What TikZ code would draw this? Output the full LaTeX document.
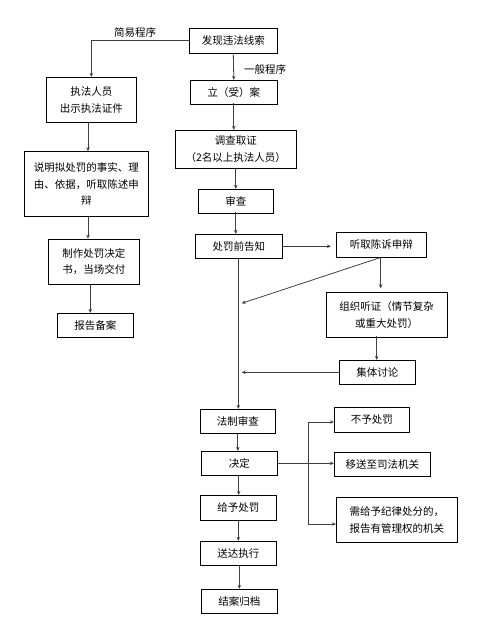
\documentclass[tikz,border=0pt]{standalone}
\usepackage{fontspec}
\setmainfont{Noto Sans CJK SC}
\usetikzlibrary{arrows.meta}
\begin{document}
\begin{tikzpicture}[x=1pt,y=-1pt,
  box/.style={draw, line width=0.8pt, inner sep=0pt, align=center,
    font=\fontsize{10.5}{16.5}\selectfont},
  lbl/.style={font=\fontsize{10.5}{13}\selectfont, inner sep=0pt},
  arr/.style={draw=black!75, line width=0.8pt, -{Stealth[length=4pt,width=3.5pt]}},
  ln/.style={draw=black!75, line width=0.8pt}]
\useasboundingbox (0,0) rectangle (483,629);
\fill[white] (0,0) rectangle (483,629);

% boxes
\node[box, minimum width=88pt, minimum height=25pt] (find) at (233.3,40.8) {发现违法线索};
\node[box, minimum width=90pt, minimum height=45pt] (zf) at (91.3,99.8) {执法人员\\出示执法证件};
\node[box, minimum width=87pt, minimum height=24pt] (la) at (233.8,92.3) {立（受）案};
\node[box, minimum width=121pt, minimum height=38pt] (dc) at (235.8,149.3) {调查取证\\（2名以上执法人员）};
\node[box, minimum width=124pt, minimum height=64.6pt] (sm) at (86.3,184) {说明拟处罚的事实、理\\由、依据，听取陈述申\\辩};
\node[box, minimum width=75pt, minimum height=24pt] (sc) at (235.8,201.3) {审查};
\node[box, minimum width=87pt, minimum height=24pt] (gz) at (238.8,246.3) {处罚前告知};
\node[box, minimum width=90pt, minimum height=25pt] (tq) at (381.3,244.8) {听取陈诉申辩};
\node[box, minimum width=120.7pt, minimum height=44.6pt] (zz) at (386.7,315) {组织听证（情节复杂\\或重大处罚）};
\node[box, minimum width=76pt, minimum height=24pt] (jt) at (377.3,372.3) {集体讨论};
\node[box, minimum width=91pt, minimum height=45.3pt, align=left] (zs) at (93.8,261.7) {制作处罚决定\\书，当场交付};
\node[box, minimum width=76pt, minimum height=24pt] (ba) at (95.3,325.3) {报告备案};
\node[box, minimum width=75pt, minimum height=24pt] (fz) at (237.8,421.3) {法制审查};
\node[box, minimum width=76pt, minimum height=24pt] (jd) at (239.3,463.3) {决定};
\node[box, minimum width=75pt, minimum height=24.6pt] (by) at (371.8,420) {不予处罚};
\node[box, minimum width=96pt, minimum height=24pt] (ys) at (382.3,464.3) {移送至司法机关};
\node[box, minimum width=121pt, minimum height=45pt, align=left] (xg) at (396.8,519.8) {需给予纪律处分的，\\报告有管理权的机关};
\node[box, minimum width=76pt, minimum height=25pt] (gy) at (238.3,507.8) {给予处罚};
\node[box, minimum width=76pt, minimum height=24pt] (sd) at (238.3,553.3) {送达执行};
\node[box, minimum width=76pt, minimum height=24pt] (ja) at (239.3,601.3) {结案归档};

% labels
\node[lbl] (jy) at (135,33) {简易程序};
\node[lbl] (yb) at (265,69) {一般程序};

% coordinates
\coordinate (diag) at (241.7,303.3);
\coordinate (jtend) at (241.7,372.3);
\coordinate (br) at (308.3,463.3);
\coordinate (brtop) at (308.3,422);
\coordinate (brbot) at (308.3,524);

% connectors
\draw[arr] (find.west) -| (zf.north);
\draw[arr] (find.south) -- (la.north);
\draw[arr] ([yshift=2pt]la.south) -- (la.south |- dc.north);
\draw[arr] (dc.south -| sc.north) -- (sc.north);
\draw[arr] ([yshift=2pt]sc.south) -- (sc.south |- gz.north);
\draw[arr,shorten >=5pt] (gz.east) -- (gz.east -| tq.west);
\draw[arr] ([xshift=-1.3pt]tq.south) -- (diag);
\draw[arr,shorten >=4pt] ([xshift=-0.6pt]tq.south) -- ([xshift=-0.6pt]tq.south |- zz.north);
\draw[arr] ([xshift=-10pt,yshift=2pt]zz.south) -- ([xshift=-10pt]zz.south |- jt.north);
\draw[arr] ([xshift=-0.5pt]gz.south) -- ([xshift=-0.5pt]gz.south |- fz.north);
\draw[arr] (jt.west) -- (jtend);
\draw[arr] (fz.south) -- (fz.south |- jd.north);
\draw[arr] (jd.east) -- (jd.east -| ys.west);
\draw[ln] (brtop) -- (brbot);
\draw[arr] (brtop) -- (brtop -| by.west);
\draw[arr] (brbot) -- (brbot -| xg.west);
\draw[arr] ([xshift=-0.6pt]jd.south) -- ([xshift=-0.6pt]jd.south |- gy.north);
\draw[arr] (gy.south) -- (sd.north);
\draw[arr] ([xshift=1pt]sd.south) -- ([xshift=1pt]sd.south |- ja.north);
\draw[arr] ([xshift=-3.3pt]zf.south) -- ([xshift=-3.3pt]zf.south |- sm.north);
\draw[arr] ([xshift=1.7pt]sm.south) -- ([xshift=1.7pt]sm.south |- zs.north);
\draw[arr] ([xshift=-3.5pt]zs.south) -- ([xshift=-3.5pt]zs.south |- ba.north);
\end{tikzpicture}
\end{document}
